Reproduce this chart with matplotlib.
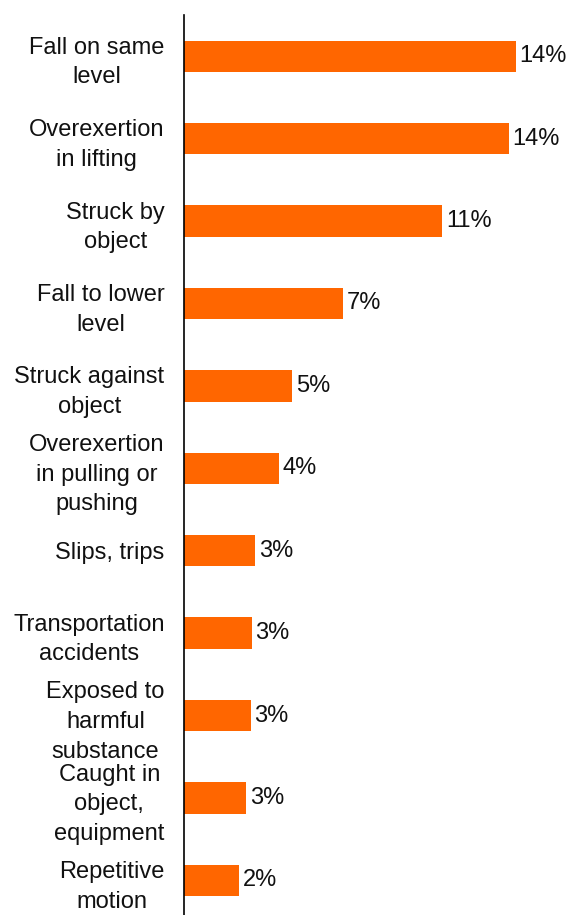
import numpy as np
from matplotlib import pyplot as plt

plt.rcParams['font.family'] = ['Liberation Sans', 'DejaVu Sans']

# event categories, top to bottom
causes = ['Fall on same\nlevel', 'Overexertion\nin lifting', 'Struck by\nobject',
          'Fall to lower\nlevel', 'Struck against\nobject', 'Overexertion\nin pulling or\npushing',
          'Slips, trips', 'Transportation\naccidents', 'Exposed to\nharmful\nsubstance',
          'Caught in\nobject,\nequipment', 'Repetitive\nmotion']
# share of cases (%)
share = [14.4, 14.1, 11.2, 6.9, 4.7, 4.1, 3.1, 2.95, 2.9, 2.7, 2.4]

fig = plt.figure(figsize=(5.68, 9.15), dpi=100)
ax = fig.add_axes([184 / 568, 0, 1 - 184 / 568, 900 / 915])

pos = np.arange(len(causes))
bars = ax.barh(pos, share, height=0.38, color='#FF6600')
ax.bar_label(bars, labels=['%.0f%%' % v for v in share], padding=2.5,
             fontsize=17, color='#111111')

ax.set_ylim(10.42, -0.5)
ax.set_xlim(0, 16.65)
ax.set_yticks(pos)
ax.set_yticklabels(causes, fontsize=17, color='#111111', linespacing=1.45)
for t in ax.get_yticklabels():
    t.set_multialignment('center')
ax.tick_params(axis='y', length=0, pad=14)
ax.set_xticks([])

for s in ['top', 'right', 'bottom']:
    ax.spines[s].set_visible(False)
ax.spines['left'].set_linewidth(1.2)

fig.savefig('out.png', dpi=100)
